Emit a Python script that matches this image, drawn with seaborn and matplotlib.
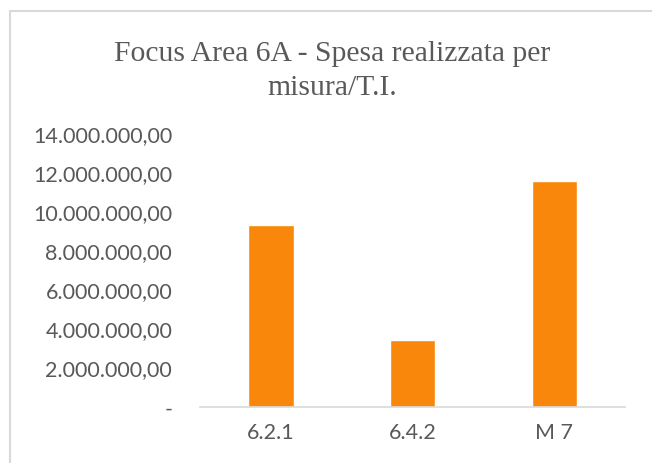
import matplotlib
matplotlib.use("Agg")
import matplotlib.pyplot as plt
import matplotlib.patches as mpatches
import seaborn as sns
import pandas as pd

categories = ["6.2.1", "6.4.2", "M 7"]
values = [9280000, 3400000, 11530000]
ytick_values = [0, 2000000, 4000000, 6000000, 8000000, 10000000, 12000000, 14000000]
ytick_labels = ["-", "2.000.000,00", "4.000.000,00", "6.000.000,00", "8.000.000,00",
                "10.000.000,00", "12.000.000,00", "14.000.000,00"]
title_lines = ["Focus Area 6A - Spesa realizzata per", "misura/T.I."]

sns.set_theme(style="white")
plt.rcParams['font.family'] = ['Lato', 'DejaVu Sans']

W, H = 652, 464
fig = plt.figure(figsize=(W / 100, H / 100), dpi=100)
ax = fig.add_axes([200 / W, (H - 407.5) / H, 425 / W, (407.5 - 133.7) / H])

df = pd.DataFrame({"cat": categories, "val": values})
sns.barplot(data=df, x="cat", y="val", ax=ax, color="#F9870B", saturation=1, width=0.32)

ax.set_ylim(0, 14000000)
ax.set_xlim(-0.5, 2.5)
ax.set_yticks(ytick_values)
ax.set_yticklabels(ytick_labels)
ax.set_xlabel("")
ax.set_ylabel("")
for s in ["top", "right", "left"]:
    ax.spines[s].set_visible(False)
ax.spines["bottom"].set_color("#d9d9d9")
ax.spines["bottom"].set_linewidth(1.2)
ax.tick_params(axis="y", length=0, pad=20, labelsize=15.5, labelcolor="#595959")
ax.tick_params(axis="x", length=0, pad=11, labelsize=15.5, labelcolor="#595959")
ax.grid(False)

for line, yb in zip(title_lines, [61, 95]):
    fig.text(332 / W, (H - yb) / H, line, ha="center", va="baseline", fontsize=21.3,
             family="Liberation Serif", color="#595959")

rect = mpatches.Rectangle((10 / W, -0.1), 1.2, (H - 12) / H + 0.1, transform=fig.transFigure,
                          fill=False, edgecolor="#d9d9d9", linewidth=1.5)
fig.patches.append(rect)

fig.savefig("out.png", dpi=100)
